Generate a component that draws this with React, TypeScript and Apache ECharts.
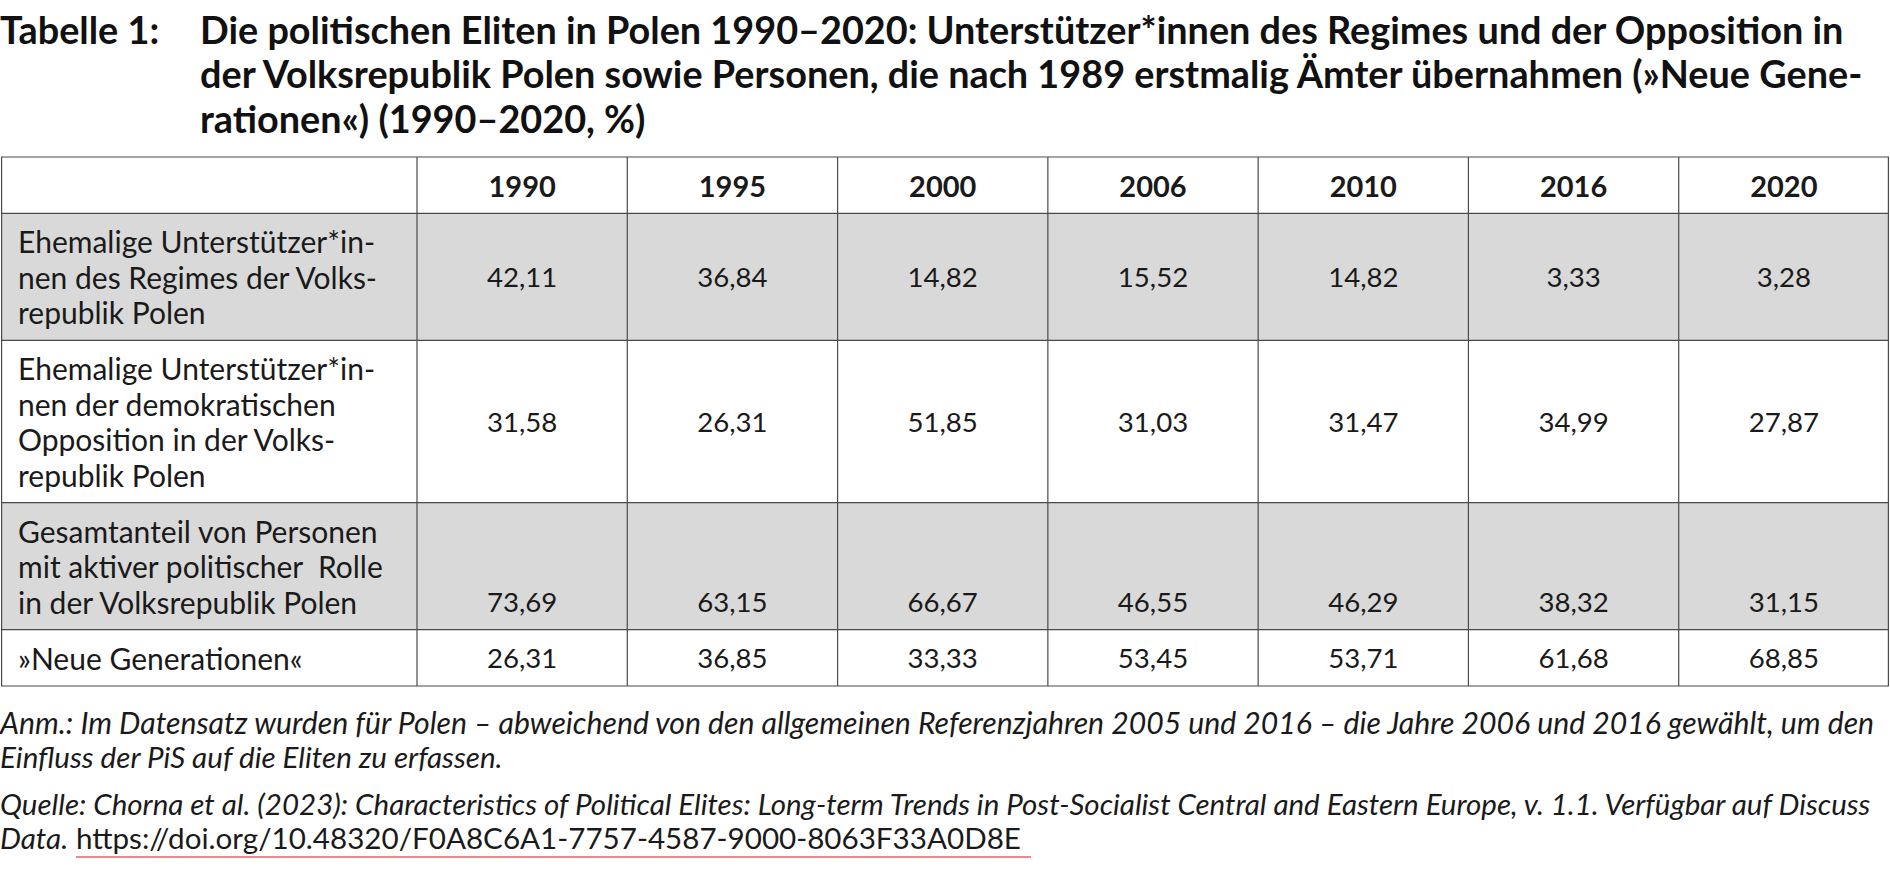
import React, { useEffect, useRef } from "react";
import * as echarts from "echarts";

const years = ["1990", "1995", "2000", "2006", "2010", "2016", "2020"];
const rowLabels: string[][] = [
  [""],
  ["Ehemalige Unterstützer*in-", "nen des Regimes der Volks-", "republik Polen"],
  ["Ehemalige Unterstützer*in-", "nen der demokratischen", "Opposition in der Volks-", "republik Polen"],
  ["Gesamtanteil von Personen", "mit aktiver politischer  Rolle", "in der Volksrepublik Polen"],
  ["»Neue Generationen«"],
];
const regime = [42.11, 36.84, 14.82, 15.52, 14.82, 3.33, 3.28];
const opposition = [31.58, 26.31, 51.85, 31.03, 31.47, 34.99, 27.87];
const totalActive = [73.69, 63.15, 66.67, 46.55, 46.29, 38.32, 31.15];
const newGenerations = [26.31, 36.85, 33.33, 53.45, 53.71, 61.68, 68.85];

const titleLead = "Tabelle 1:";
const titleLines = [
  "Die politischen Eliten in Polen 1990–2020: Unterstützer*innen des Regimes und der Opposition in",
  "der Volksrepublik Polen sowie Personen, die nach 1989 erstmalig Ämter übernahmen (»Neue Gene-",
  "rationen«) (1990–2020, %)",
];
const noteLines = [
  "Anm.: Im Datensatz wurden für Polen – abweichend von den allgemeinen Referenzjahren 2005 und 2016 – die Jahre 2006 und 2016 gewählt, um den",
  "Einfluss der PiS auf die Eliten zu erfassen.",
];
const sourceLine1 =
  "Quelle: Chorna et al. (2023): Characteristics of Political Elites: Long-term Trends in Post-Socialist Central and Eastern Europe, v. 1.1. Verfügbar auf Discuss";
const sourceLead2 = "Data.";
const sourceUrl = "https://doi.org/10.48320/F0A8C6A1-7757-4587-9000-8063F33A0D8E";

// layout constants
const FONT = "Lato, 'Open Sans', sans-serif";
const LABEL_COL = 416;
const LINE_H = 35.5;
const LABEL_SIZE = 30;
const NUM_SIZE = 27.6;
const HEAD_SIZE = 29;
const GRAY = "#d9d9d9";
const BORDER = "#4a4a4a";

export default function App() {
  const ref = useRef<HTMLDivElement>(null);
  useEffect(() => {
    document.body.style.margin = "0";
    const chart = echarts.init(ref.current!, null, { renderer: "svg" });
    const rowValues: (number[] | null)[] = [null, regime, opposition, totalActive, newGenerations];
    const rowUnits = rowLabels.map((l) => l.length + 0.6);
    const rowStart: number[] = [];
    let acc = 0;
    rowUnits.forEach((u) => {
      rowStart.push(acc);
      acc += u;
    });
    const totalUnits = acc;
    const shaded = [false, true, false, true, false];
    const valueBottom = [false, false, false, true, false];
    const fmt = (v: number) => v.toFixed(2).replace(".", ",");

    const renderItem = (params: any, api: any) => {
      const r = api.value(0) as number;
      const cs = params.coordSys;
      const y0 = api.coord([0, rowStart[r]])[1];
      const y1 = api.coord([0, rowStart[r] + rowUnits[r]])[1];
      const bw = api.size([1, 0])[0];
      const gridLeft = cs.x;
      const gridRight = cs.x + cs.width;
      const tableLeft = gridLeft - LABEL_COL;
      const children: any[] = [];
      if (shaded[r]) {
        children.push({
          type: "rect",
          shape: { x: tableLeft, y: y0, width: gridRight - tableLeft, height: y1 - y0 },
          style: { fill: GRAY },
          silent: true,
        });
      }
      const yMid = (y0 + y1) / 2;
      const nLines = rowLabels[r].length;
      if (rowLabels[r][0]) {
        children.push({
          type: "text",
          style: {
            text: rowLabels[r].join("\n"),
            x: tableLeft + 17,
            y: yMid,
            align: "left",
            verticalAlign: "middle",
            lineHeight: LINE_H,
            fontFamily: FONT,
            fontSize: LABEL_SIZE,
            fill: "#1a1a1a",
          },
        });
      }
      const vals = rowValues[r];
      years.forEach((yr, c) => {
        const cx = api.coord([c, 0])[0];
        const text = vals ? fmt(vals[c]) : yr;
        const ty = valueBottom[r] ? yMid + ((nLines - 1) / 2) * LINE_H : yMid;
        children.push({
          type: "text",
          style: {
            text,
            x: cx,
            y: ty,
            align: "center",
            verticalAlign: "middle",
            fontFamily: FONT,
            fontSize: vals ? NUM_SIZE : HEAD_SIZE,
            fontWeight: vals ? "normal" : "bold",
            fill: "#1a1a1a",
          },
        });
      });
      // borders
      const ls = { stroke: BORDER, lineWidth: 1.2 };
      children.push({ type: "line", shape: { x1: tableLeft, y1: y0, x2: gridRight, y2: y0 }, style: ls });
      if (r === rowLabels.length - 1) {
        children.push({ type: "line", shape: { x1: tableLeft, y1: y1, x2: gridRight, y2: y1 }, style: ls });
      }
      const xs = [tableLeft + 0.6, gridLeft];
      for (let c = 1; c < years.length; c++) xs.push(api.coord([c, 0])[0] - bw / 2);
      xs.push(gridRight - 0.6);
      xs.forEach((x) => children.push({ type: "line", shape: { x1: x, y1: y0, x2: x, y2: y1 }, style: ls }));
      return { type: "group", children };
    };

    const titleStyle = { fontFamily: FONT, fontSize: 37.8, fontWeight: "bold", fill: "#111" };
    const noteStyle = { fontFamily: FONT, fontSize: 29.6, fontStyle: "italic", fill: "#1a1a1a" };

    const graphic: any[] = [
      { type: "text", x: 0, y: 29, style: { ...titleStyle, text: titleLead, verticalAlign: "middle" } },
      ...titleLines.map((t, i) => ({
        type: "text",
        x: 200,
        y: 29 + i * 44.5,
        style: { ...titleStyle, text: t, verticalAlign: "middle" },
      })),
      {
        type: "text",
        x: 0,
        y: 722,
        style: { ...noteStyle, fontSize: 30.2, text: noteLines[0], verticalAlign: "middle" },
      },
      { type: "text", x: 0, y: 756, style: { ...noteStyle, text: noteLines[1], verticalAlign: "middle" } },
      {
        type: "text",
        x: 0,
        y: 803,
        style: { ...noteStyle, fontSize: 29.5, text: sourceLine1, verticalAlign: "middle" },
      },
      { type: "text", x: 0, y: 837, style: { ...noteStyle, text: sourceLead2, verticalAlign: "middle" } },
      {
        type: "text",
        x: 76,
        y: 837,
        style: { ...noteStyle, fontStyle: "normal", text: sourceUrl, verticalAlign: "middle" },
      },
      { type: "line", shape: { x1: 76, y1: 857, x2: 1031, y2: 857 }, style: { stroke: "#e06666", lineWidth: 1.5 } },
    ];

    chart.setOption({
      animation: false,
      backgroundColor: "#ffffff",
      grid: { left: LABEL_COL + 1, right: 1, top: 157, bottom: 869 - 686 },
      xAxis: { type: "category", data: years, show: false },
      yAxis: { type: "value", min: 0, max: totalUnits, inverse: true, show: false },
      graphic,
      series: [
        {
          type: "custom",
          renderItem,
          data: rowLabels.map((_, i) => [i]),
          encode: { x: -1, y: 0 },
          clip: false,
        },
      ],
    });
    return () => chart.dispose();
  }, []);
  return <div ref={ref} style={{ position: "fixed", left: 0, top: 0, width: 1890, height: 869 }} />;
}
